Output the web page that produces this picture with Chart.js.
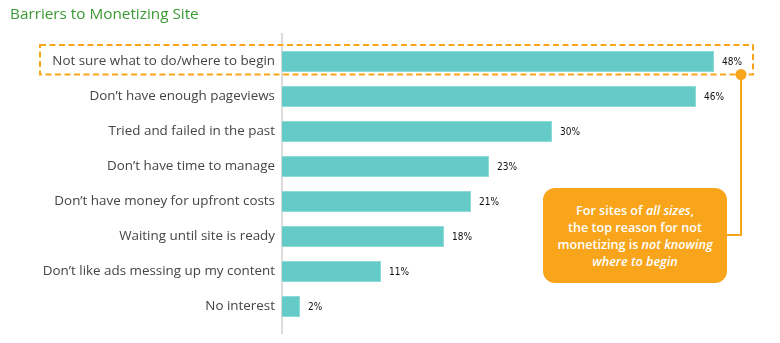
<!DOCTYPE html>
<html>
<head>
<meta charset="utf-8">
<script src="https://cdn.jsdelivr.net/npm/chart.js@4/dist/chart.umd.min.js"></script>
<style>
  html, body { margin: 0; padding: 0; background: #fff; }
  #wrap { position: relative; width: 780px; height: 343px; }
  canvas { position: absolute; left: 0; top: 0; }
  #callout {
    position: absolute; left: 543px; top: 188px; width: 184px; height: 95px;
    background: #f9a51b; border-radius: 12px; color: #fff;
    font-family: "Open Sans", sans-serif; font-size: 12.6px; font-weight: 600; line-height: 17px;
    text-align: center; display: flex; align-items: center; justify-content: center;
    box-sizing: border-box; padding: 0 2px 0 2px;
  }
</style>
</head>
<body>
<div id="wrap">
  <canvas id="c" width="780" height="343"></canvas>
  <div id="callout"><div>For sites of <i>all sizes</i>,<br>the top reason for not<br>monetizing is <i>not knowing</i><br><i>where to begin</i></div></div>
</div>
<script>
const title = "Barriers to Monetizing Site";
const categories = [
  "Not sure what to do/where to begin",
  "Don\u2019t have enough pageviews",
  "Tried and failed in the past",
  "Don\u2019t have time to manage",
  "Don\u2019t have money for upfront costs",
  "Waiting until site is ready",
  "Don\u2019t like ads messing up my content",
  "No interest"
];
const values = [48, 46, 30, 23, 21, 18, 11, 2];
const valueLabels = ["48%", "46%", "30%", "23%", "21%", "18%", "11%", "2%"];

const ORANGE = "#f9a51b";

const decor = {
  id: "decor",
  beforeDatasetsDraw(chart) {
    const ctx = chart.ctx;
    const x0 = chart.scales.x.getPixelForValue(0);
    ctx.save();
    ctx.strokeStyle = "#dcdcdc";
    ctx.lineWidth = 2;
    ctx.beginPath();
    ctx.moveTo(x0, 33);
    ctx.lineTo(x0, 334);
    ctx.stroke();
    ctx.restore();
  },
  afterDatasetsDraw(chart) {
    const ctx = chart.ctx;
    const meta = chart.getDatasetMeta(0);
    ctx.save();
    ctx.fillStyle = "#111";
    ctx.font = '10px "DejaVu Sans Condensed", "DejaVu Sans", sans-serif';
    ctx.textBaseline = "middle";
    ctx.textAlign = "left";
    meta.data.forEach((bar, i) => {
      ctx.fillText(valueLabels[i], bar.x + 8, bar.y + 1);
    });
    // dashed highlight around first row
    const y0 = chart.scales.y.getPixelForValue(0);
    ctx.strokeStyle = ORANGE;
    ctx.lineWidth = 2;
    ctx.setLineDash([6, 3.5]);
    ctx.strokeRect(40, y0 - 16.5, 713, 29.5);
    ctx.setLineDash([]);
    // connector
    ctx.beginPath();
    ctx.moveTo(741, y0 + 13);
    ctx.lineTo(741, 235);
    ctx.lineTo(726, 235);
    ctx.stroke();
    ctx.fillStyle = ORANGE;
    ctx.beginPath();
    ctx.arc(741, y0 + 13, 5.5, 0, Math.PI * 2);
    ctx.fill();
    // title
    ctx.fillStyle = "#3a9a33";
    ctx.font = '15.3px "Open Sans", sans-serif';
    ctx.textBaseline = "middle";
    ctx.fillText(title, 10, 15);
    ctx.restore();
  }
};

new Chart(document.getElementById("c"), {
  type: "bar",
  data: {
    labels: categories,
    datasets: [{
      data: values,
      backgroundColor: "#64cbc8",
      borderColor: "#8fdad7",
      borderWidth: 1,
      barPercentage: 0.6,
      categoryPercentage: 1.0
    }]
  },
  options: {
    indexAxis: "y",
    responsive: false,
    animation: false,
    layout: { padding: { left: 0, right: 48, top: 44, bottom: 19 } },
    plugins: { legend: { display: false }, tooltip: { enabled: false } },
    scales: {
      x: { min: 0, max: 50, display: false },
      y: {
        grid: { display: false, drawTicks: false },
        border: { display: false },
        ticks: { color: "#454545", font: { family: "Open Sans", size: 13.4 }, padding: 7 },
        afterFit(scale) { scale.width = 282; }
      }
    }
  },
  plugins: [decor]
});
</script>
</body>
</html>
